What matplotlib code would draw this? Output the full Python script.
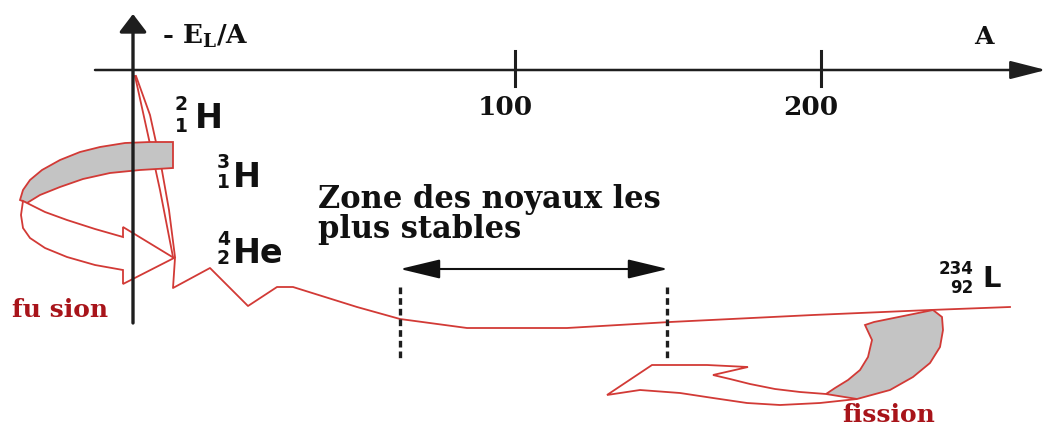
import matplotlib
matplotlib.use("Agg")
import matplotlib.pyplot as plt
from matplotlib.patches import Polygon

# ---------------------------------------------------------------
# Aston curve: -E_L/A as a function of the mass number A
# (schematic diagram, coordinates in drawing units)
# ---------------------------------------------------------------

# main branch of the curve, from helium-4 to the heaviest nuclei
curve_x = [175, 173, 210, 248, 277, 293, 357, 400, 467, 567, 670, 813, 930, 1010]
curve_y = [258, 288, 268, 306, 287, 287, 307, 319, 328, 328, 322, 315, 310, 307]

# steep branch of the light nuclei, drawn as a doubled stroke
light_a_x = [135, 148, 160, 173]
light_a_y = [76, 135, 190, 257]
light_b_x = [136, 150, 161, 169, 175]
light_b_y = [76, 115, 165, 210, 257]

# horizontal axis graduations
tick_x = [515, 821]
tick_labels = ["100", "200"]

# fusion arrow: grey band and white arrow head
fusion_band_x = [173, 150, 125, 100, 80, 60, 42, 30, 23, 20, 27, 40, 60, 83, 110, 140, 173]
fusion_band_y = [142, 142, 143, 147, 152, 160, 170, 180, 190, 200, 203, 195, 187, 179, 173, 170, 168]
fusion_head_x = [23, 45, 67, 95, 123, 123, 174, 123, 123, 95, 67, 45, 30, 23, 21, 23]
fusion_head_y = [201, 212, 220, 229, 237, 227, 258, 284, 270, 265, 257, 248, 238, 228, 215, 201]

# fission arrow: grey tail and white arrow head
fission_tail_x = [865, 874, 933, 942, 943, 940, 930, 913, 890, 857, 826, 835, 848, 860, 868, 872]
fission_tail_y = [325, 322, 310, 317, 330, 347, 363, 377, 390, 399, 394, 388, 380, 370, 357, 340]
fission_head_x = [826, 800, 775, 750, 730, 713, 748, 707, 652, 607, 640, 680, 713, 747, 780, 820, 857]
fission_head_y = [394, 392, 389, 384, 379, 375, 367, 365, 365, 395, 390, 393, 398, 403, 405, 403, 399]

# region of the most stable nuclei
stable_left, stable_right = 400, 667

RED = "#d23a36"
DARK_RED = "#a8141a"
GREY = "#c4c4c4"
AXIS = "#1e1e1e"
SERIF = "DejaVu Serif"
SANS = "DejaVu Sans"

plt.rcParams["mathtext.fontset"] = "dejavuserif"
plt.rcParams["mathtext.default"] = "bf"

fig = plt.figure(figsize=(10.49, 4.28), dpi=100)
ax = fig.add_axes([0, 0, 1, 1])
ax.set_xlim(0, 1049)
ax.set_ylim(428, 0)
ax.axis("off")

# curve
ax.plot(light_a_x, light_a_y, color=RED, lw=1.3, zorder=2)
ax.plot(light_b_x, light_b_y, color=RED, lw=1.3, zorder=2)
ax.plot(curve_x, curve_y, color=RED, lw=1.3, zorder=2)

# fusion arrow
ax.add_patch(Polygon(list(zip(fusion_band_x, fusion_band_y)), closed=True,
                     facecolor=GREY, edgecolor=RED, lw=1.3, zorder=3))
ax.add_patch(Polygon(list(zip(fusion_head_x, fusion_head_y)), closed=True,
                     facecolor="white", edgecolor=RED, lw=1.3, zorder=3))

# fission arrow
ax.add_patch(Polygon(list(zip(fission_head_x, fission_head_y)), closed=False,
                     facecolor="white", edgecolor=RED, lw=1.3, zorder=3))
ax.add_patch(Polygon(list(zip(fission_tail_x, fission_tail_y)), closed=True,
                     facecolor=GREY, edgecolor=RED, lw=1.3, zorder=3))

# axes with arrow heads
ax.annotate("", xy=(133, 14), xytext=(133, 323),
            arrowprops=dict(arrowstyle="-|>,head_length=0.55,head_width=0.42",
                            mutation_scale=20, lw=2.4, color=AXIS,
                            shrinkA=0, shrinkB=0), zorder=5)
ax.annotate("", xy=(1046, 70), xytext=(95, 70),
            arrowprops=dict(arrowstyle="-|>,head_length=1.1,head_width=0.28",
                            mutation_scale=20, lw=1.8, color=AXIS,
                            shrinkA=0, shrinkB=0), zorder=5)
for tx, tl in zip(tick_x, tick_labels):
    ax.plot([tx, tx], [51, 86], color=AXIS, lw=2.2, zorder=5)
    ax.text(tx - 10, 115, tl, ha="center", va="baseline", fontsize=19,
            family=SERIF, weight="bold", color="#111111")

ax.text(162, 44, r"- E$_L$/A", ha="left", va="baseline", fontsize=19,
        family=SERIF, weight="bold", color="#111111")
ax.text(984, 44, "A", ha="center", va="baseline", fontsize=18,
        family=SERIF, weight="bold", color="#111111")

# zone of the most stable nuclei
for sx in (stable_left, stable_right):
    ax.plot([sx, sx], [287, 360], color=AXIS, lw=2.4, ls=(0, (2.0, 1.2)), zorder=4)
ax.annotate("", xy=(stable_left, 269), xytext=(stable_right + 1, 269),
            arrowprops=dict(arrowstyle="<|-|>,head_length=1.25,head_width=0.3",
                            mutation_scale=20, lw=1.5, color="#111111",
                            shrinkA=0, shrinkB=0), zorder=4)
ax.text(318, 208, "Zone des noyaux les", ha="left", va="baseline", fontsize=22,
        family=SERIF, weight="bold", color="#111111")
ax.text(318, 238, "plus stables", ha="left", va="baseline", fontsize=22,
        family=SERIF, weight="bold", color="#111111")


def nuclide(x_right, mass, charge, symbol, y_mass, y_charge, y_symbol,
            sub_size=13.5, sym_size=24, gap=7):
    ax.text(x_right, y_mass, mass, ha="right", va="baseline", fontsize=sub_size,
            family=SANS, weight="bold", color="#111111")
    ax.text(x_right, y_charge, charge, ha="right", va="baseline", fontsize=sub_size,
            family=SANS, weight="bold", color="#111111")
    ax.text(x_right + gap, y_symbol, symbol, ha="left", va="baseline",
            fontsize=sym_size, family=SANS, weight="bold", color="#111111")


nuclide(188, "2", "1", "H", 110, 132, 128)
nuclide(230, "3", "1", "H", 168, 188, 187, gap=3)
nuclide(230, "4", "2", "He", 245, 264, 263, gap=3)
nuclide(973, "234", "92", "L", 274, 293, 287, sub_size=12, sym_size=21, gap=9)

# process labels
ax.text(12, 317, "fu sion", ha="left", va="baseline", fontsize=18,
        family=SERIF, weight="bold", color=DARK_RED, zorder=4)
ax.text(842, 422, "fission", ha="left", va="baseline", fontsize=18,
        family=SERIF, weight="bold", color=DARK_RED)

fig.savefig("out.png", dpi=100, facecolor="white")
